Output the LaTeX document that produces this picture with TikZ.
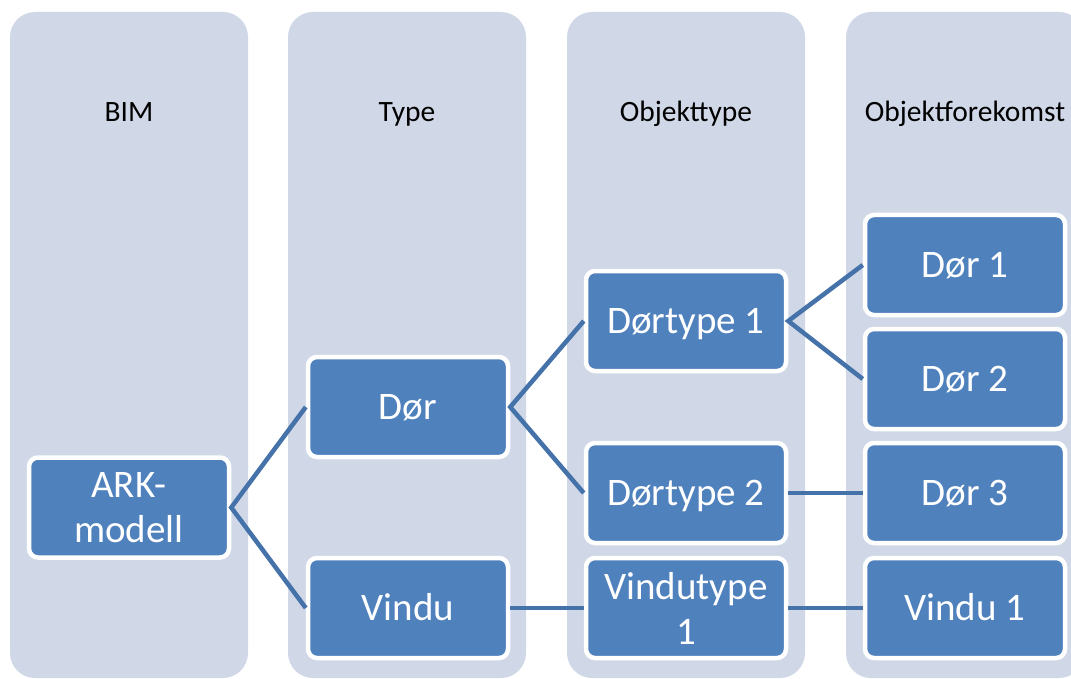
\documentclass[tikz,border=0pt]{standalone}
\usepackage{fontspec}
\setmainfont{Carlito}
\definecolor{colbg}{HTML}{D0D8E8}
\definecolor{nodefill}{HTML}{4F81BD}
\definecolor{linkcol}{HTML}{4672AA}
\tikzset{
  colbox/.style={fill=colbg, draw=none, rounded corners=25pt},
  coltitle/.style={text=black, font=\fontsize{29.5}{32}\selectfont, anchor=base},
  item/.style={fill=nodefill, draw=white, line width=4.5pt, rounded corners=9pt,
    minimum width=200pt, minimum height=100pt, text=white, align=center,
    inner sep=0pt, font=\fontsize{39}{45}\selectfont},
  oneline/.style={text height=30pt, text depth=5pt},
  link/.style={draw=linkcol, line width=4.5pt}
}
\begin{document}
\begin{tikzpicture}[x=1pt,y=-1pt]
\useasboundingbox (0,0) rectangle (1071,679);
\begin{scope}
\clip (0,0) rectangle (1071,679);
\fill[colbox] (10,12) rectangle (248,678);
\fill[colbox] (288,12) rectangle (526,678);
\fill[colbox] (567,12) rectangle (805,678);
\fill[colbox] (846,12) rectangle (1084,678);
\end{scope}
\node[coltitle] (t1) at (129,122) {BIM};
\node[coltitle] (t2) at (407,122) {Type};
\node[coltitle] (t3) at (686,122) {Objekttype};
\node[coltitle] (t4) at (965,122) {Objektforekomst};

\node[item] (ark) at (129,507.5) {ARK-\\modell};
\node[item,oneline] (dor) at (408,407) {Dør};
\node[item,oneline] (vindu) at (408,608) {Vindu};
\node[item,oneline] (dt1) at (686,321) {Dørtype 1};
\node[item,oneline] (dt2) at (686,493) {Dørtype 2};
\node[item] (vt1) at (686,608) {Vindutype\\1};
\node[item,oneline] (d1) at (965,265) {Dør 1};
\node[item,oneline] (d2) at (965,379) {Dør 2};
\node[item,oneline] (d3) at (965,493) {Dør 3};
\node[item,oneline] (v1) at (965,608) {Vindu 1};

\draw[link] (dor.west) -- (ark.east) -- (vindu.west);
\draw[link] (dt1.west) -- (dor.east) -- (dt2.west);
\draw[link] (d1.west) -- (dt1.east) -- (d2.west);
\draw[link] (dt2.east) -- (d3.west);
\draw[link] (vindu.east) -- (vt1.west);
\draw[link] (vt1.east) -- (v1.west);
\end{tikzpicture}
\end{document}
